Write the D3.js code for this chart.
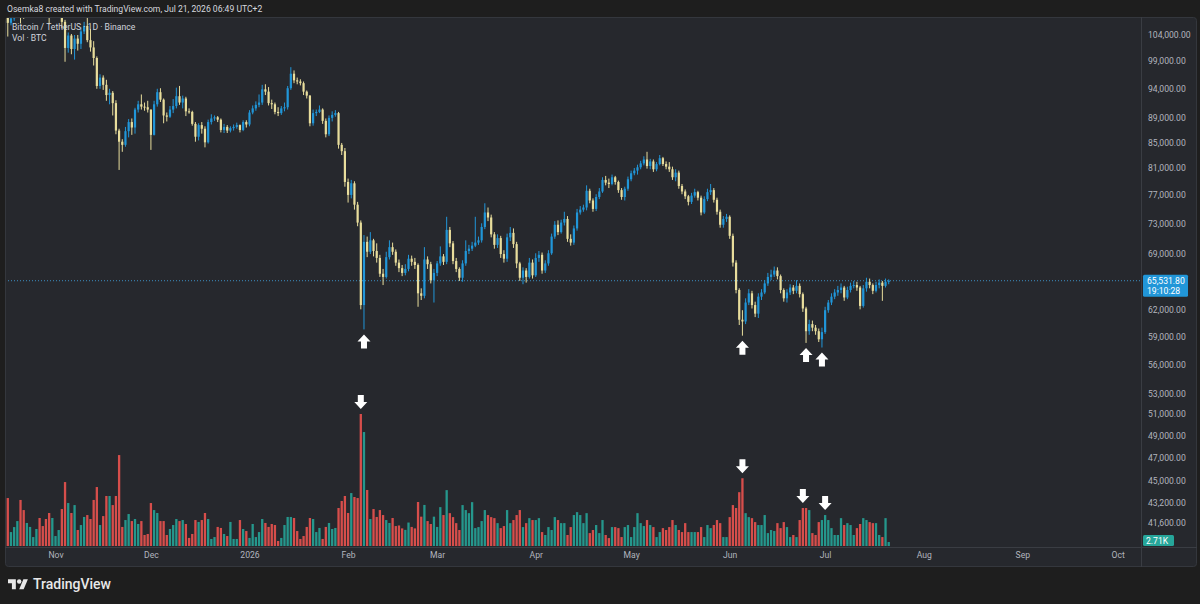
<!DOCTYPE html>
<html>
<head>
<meta charset="utf-8">
<script src="https://cdn.jsdelivr.net/npm/d3@7"></script>
<style>
  html, body { margin: 0; padding: 0; background: #1e1e1e; }
  svg { display: block; font-family: Roboto, "Noto Sans", sans-serif; }
</style>
</head>
<body>
<svg id="chart" width="1200" height="604"></svg>
<script>
// daily BTC/USDT candles, prices in thousands of USDT, volumes in thousands of BTC
var firstDay = Date.UTC(2025, 9, 17);
var firstOpen = 108.6;

var closes = [106.4,107.3,108.8,110.6,108.7,108.4,110.8,111.8,112.1,114.3,
113.0,111.0,110.0,108.2,109.5,110.0,110.6,106.6,101.5,103.9,
101.3,103.3,102.3,104.7,105.8,103.0,101.6,99.6,94.5,96.0,
94.7,92.9,93.3,91.5,86.9,85.1,84.6,86.8,88.3,87.4,
90.4,91.3,90.9,90.8,90.4,86.2,91.3,93.4,92.1,89.4,
89.2,90.4,91.0,92.7,91.6,92.3,90.1,90.0,88.0,85.9,
87.8,87.2,85.0,88.3,88.9,89.1,88.7,87.0,87.5,86.9,
87.3,87.5,87.8,87.0,88.3,87.9,89.9,90.6,91.2,91.6,
93.9,93.5,91.5,91.3,90.0,89.8,90.6,90.8,94.1,96.7,
95.5,95.3,95.0,93.5,92.8,88.1,89.8,90.0,90.4,88.5,
86.3,89.0,89.5,89.8,84.6,83.6,78.9,77.0,78.7,75.6,
73.1,62.6,70.5,69.2,70.7,69.3,68.4,66.4,66.0,68.5,
69.8,69.2,67.8,67.1,66.5,67.0,68.3,67.9,67.5,64.0,
63.7,68.2,67.6,65.6,66.5,67.7,68.6,67.9,72.1,70.3,
68.0,67.0,65.9,67.7,69.3,69.6,70.0,70.4,70.7,72.5,
74.5,73.8,71.5,70.1,71.0,68.9,68.3,71.1,71.7,70.2,
67.7,65.9,66.8,66.0,67.8,66.2,68.4,68.8,66.8,67.7,
69.0,71.2,72.8,71.8,73.1,73.6,70.9,70.4,72.3,74.5,
74.9,75.2,77.6,76.2,75.0,76.7,77.5,79.2,78.8,78.6,
79.6,78.9,77.7,76.7,77.9,79.3,80.2,80.6,81.1,81.7,
82.3,81.3,82.0,80.8,81.6,82.5,81.6,81.2,80.8,79.6,
80.3,78.3,77.5,76.8,76.0,76.9,77.4,76.6,74.5,76.4,
77.4,77.7,76.3,74.6,72.8,73.6,73.9,71.3,67.8,64.4,
60.9,60.7,62.9,64.0,62.6,61.6,63.6,64.1,65.2,66.0,
66.3,66.8,66.1,64.4,63.4,64.1,64.7,64.3,64.9,63.9,
62.2,59.6,60.4,60.0,59.6,58.7,59.5,62.0,62.9,63.6,
64.1,64.4,64.7,63.5,64.4,64.9,65.0,64.7,62.5,64.6,
65.4,65.0,64.3,65.0,65.3,64.9,65.4,65.5318];

var highs = [109.3,108.0,109.5,111.6,111.0,109.9,111.4,112.3,112.9,114.9,
116.0,113.6,111.7,110.6,110.0,110.4,111.2,110.8,107.0,104.5,
104.2,104.0,104.0,105.5,106.6,107.4,105.2,102.8,99.9,96.6,
96.4,95.6,94.0,93.6,92.0,87.2,85.5,87.5,88.8,88.9,
90.7,91.9,93.0,91.6,91.9,90.4,91.9,94.0,94.1,92.3,
89.9,91.0,92.2,94.2,94.5,92.8,92.6,90.6,90.2,88.3,
88.1,88.3,87.6,88.7,89.6,89.4,89.3,88.9,88.0,87.8,
87.6,87.9,88.2,87.9,88.6,88.6,90.3,91.1,91.8,93.0,
94.7,94.8,94.3,92.1,91.6,90.8,91.0,91.6,94.5,97.9,
97.3,96.0,95.7,95.3,93.7,92.9,90.4,90.4,91.1,90.6,
88.9,89.4,90.1,90.3,90.0,84.9,84.1,79.4,79.2,79.0,
76.0,73.4,71.4,71.2,71.8,70.9,70.3,68.8,67.0,69.2,
70.7,70.4,69.5,68.2,67.5,67.6,68.8,68.7,68.4,67.7,
64.6,69.8,68.6,67.9,67.0,68.0,69.9,68.9,73.9,72.5,
70.6,68.4,67.2,68.1,70.7,70.1,70.5,73.9,71.2,73.0,
75.8,75.2,74.2,71.8,71.5,71.3,69.4,71.6,72.5,72.3,
70.5,67.9,67.2,67.1,68.4,68.2,69.0,69.3,69.1,68.1,
69.4,71.6,73.3,73.4,73.5,74.6,74.0,71.5,72.7,75.0,
75.4,75.6,78.4,77.9,76.5,77.1,78.0,79.6,79.8,79.4,
80.0,79.8,79.1,78.0,78.2,79.7,80.6,81.0,81.5,82.1,
82.8,83.5,82.4,82.3,81.9,83.0,82.7,82.0,81.9,81.2,
80.8,80.6,78.6,77.8,77.0,77.3,77.9,77.6,76.9,76.8,
77.9,78.6,78.0,76.6,74.9,74.0,74.3,74.1,71.6,68.1,
64.6,62.0,63.4,64.5,64.3,63.0,64.0,64.5,65.6,66.5,
66.9,67.3,67.2,66.3,64.6,64.5,65.1,65.0,65.6,65.2,
64.1,62.4,60.9,60.8,60.3,59.9,60.0,62.4,63.2,64.0,
64.5,64.9,65.2,64.9,64.8,65.3,65.5,65.4,64.9,65.0,
65.9,65.8,65.2,65.4,65.7,65.5,65.8,65.7];

var lows = [103.7,105.9,106.8,108.3,106.3,107.2,107.9,110.2,111.2,111.5,
112.3,110.3,109.0,106.1,107.9,109.0,109.8,105.3,98.9,100.6,
100.3,99.3,101.0,101.3,104.2,102.6,100.8,98.2,94.0,94.0,
93.8,91.9,91.3,89.4,86.3,80.7,83.5,84.3,85.8,86.2,
86.4,89.9,90.4,90.2,89.9,83.8,86.1,90.9,91.7,88.1,
88.4,89.0,89.8,90.6,91.2,90.6,89.3,89.7,87.7,85.1,
85.3,86.4,84.2,84.8,87.9,88.5,88.3,86.6,86.5,86.5,
86.6,86.9,87.2,86.6,86.8,87.4,87.6,89.6,90.2,90.8,
91.2,92.9,91.1,90.5,89.6,89.3,89.5,90.1,90.4,93.8,
95.0,94.8,94.6,92.9,92.3,87.6,87.7,89.3,89.8,88.0,
85.8,86.0,88.4,89.2,84.0,83.0,78.2,75.9,76.5,74.9,
72.6,62.1,59.8,68.5,68.9,68.6,67.8,66.0,65.0,65.8,
68.2,68.8,67.4,66.6,66.1,66.2,66.7,67.4,67.0,62.4,
63.2,63.4,67.0,65.2,62.9,66.1,67.4,67.5,67.6,69.8,
67.6,66.6,65.5,65.4,67.4,68.9,69.3,69.8,70.1,70.4,
72.2,73.3,71.1,69.6,69.7,68.4,67.8,67.9,70.6,69.7,
67.1,65.5,65.1,65.3,65.8,65.8,66.0,67.9,66.4,66.5,
67.4,68.8,70.9,71.4,71.6,72.7,70.5,70.0,70.1,72.0,
74.2,74.6,74.8,75.8,74.6,74.7,76.4,77.3,78.4,78.0,
78.4,78.5,77.3,76.3,76.2,77.6,79.0,79.9,80.0,80.8,
81.4,80.9,80.8,80.4,80.5,81.4,81.3,80.8,80.4,79.2,
79.0,77.9,77.1,76.4,75.5,75.7,76.6,76.2,74.1,74.3,
76.1,77.0,75.9,74.2,72.4,72.4,73.2,70.9,67.3,64.0,
60.3,59.1,60.4,62.6,62.2,61.2,61.1,63.2,63.9,64.9,
65.6,66.0,65.7,64.0,63.0,62.9,63.8,63.9,64.0,63.5,
61.8,58.3,59.2,59.6,59.2,58.4,57.8,59.3,61.7,62.6,
63.3,63.7,64.0,63.1,63.3,64.1,64.6,64.3,62.1,62.3,
64.2,64.6,63.9,64.1,64.6,63.1,64.7,65.1];

var volumes = [32.7,9.5,12.9,17.0,31.4,24.5,15.7,13.0,6.1,11.6,
19.1,13.6,18.4,22.5,19.1,6.8,10.9,25.2,43.6,29.3,
22.5,27.9,10.9,14.3,19.8,21.1,18.4,31.4,40.2,14.3,
20.4,34.1,34.1,27.9,34.1,62.0,13.0,17.7,21.8,17.0,
18.4,15.0,17.0,7.5,8.2,29.3,24.5,22.5,17.0,17.0,
7.5,11.6,14.3,18.4,17.0,17.7,15.0,5.5,8.2,17.7,
16.4,17.7,22.5,18.4,4.8,6.1,13.0,12.3,8.2,6.8,
16.4,4.8,4.8,17.7,11.6,10.2,5.5,15.0,6.1,9.5,
18.4,15.7,13.0,15.0,14.3,3.4,5.5,14.3,19.8,19.8,
19.1,10.2,4.8,6.8,13.0,19.1,18.4,9.5,12.3,4.8,
13.0,15.7,11.6,12.3,25.9,30.7,34.1,22.5,36.1,33.4,
32.7,90.0,77.7,38.2,18.4,25.2,19.8,24.5,21.1,17.7,
15.7,19.1,13.6,14,12,11,16,13,12,30,
20,28,17,15,20,13,26.5,21.1,38.1,22.4,
19.7,15.6,10.9,27.9,24.5,22.4,29.9,12.2,12.9,17.0,
24.5,21.1,19.7,19.0,15.6,12.2,13.6,24.5,15.6,17.7,
21.1,24.5,12.9,15.6,19.0,17.7,17.7,19.0,9.5,7.5,
12.9,10.9,19.7,17.7,15.6,15.6,7.5,12.9,21.1,23.1,
21.1,15.6,22.4,8.8,10.9,14.3,8.8,17.7,7.5,5.4,
12.9,12.9,12.2,6.1,12.9,14.3,6.1,12.9,22.4,15.6,
13.6,17.7,14.3,12.9,6.1,9.5,12.2,10.9,12.9,17.7,
14.3,10.9,9.5,15.6,9.5,9.5,9.5,9.5,12.9,6.1,
14.3,12.2,14.3,17.7,15.6,6.1,6.1,19.7,27.9,25.9,
36.7,46.2,22.4,19.7,19.0,16.3,14.3,14.3,21.1,8.8,
10.9,10.2,15.6,12.2,16.3,12.9,6.1,7.5,6.1,17.7,
25.9,25.9,24.5,8.8,7.5,16.3,17.7,21.1,17.7,12.2,
7.5,7.5,19.0,14.3,15.6,14.3,7.5,12.2,15.0,19.0,
17.7,16.3,15.6,15.6,7.5,6.1,19.0,2.71];

var priceTicks = [104000, 99000, 94000, 89000, 85000, 81000, 77000, 73000, 69000,
  62000, 59000, 56000, 53000, 51000, 49000, 47000, 45000, 43200, 41600];
var monthTicks = [Date.UTC(2025,10,1), Date.UTC(2025,11,1), Date.UTC(2026,0,1), Date.UTC(2026,1,1),
  Date.UTC(2026,2,1), Date.UTC(2026,3,1), Date.UTC(2026,4,1), Date.UTC(2026,5,1),
  Date.UTC(2026,6,1), Date.UTC(2026,7,1), Date.UTC(2026,8,1), Date.UTC(2026,9,1)];
var monthLabels = ["Nov", "Dec", "2026", "Feb", "Mar", "Apr", "May", "Jun", "Jul", "Aug", "Sep", "Oct"];

// candles marked with white arrows (under the low / above the volume bar)
var lowArrows = [112, 231, 251, 256];
var volArrows = [111, 231, 250, 257];

var upColor = "#2196d8", downColor = "#e8dd9c";
var volUp = "#26a69a", volDown = "#ef5350";
var textColor = "#b2b5be";

var svg = d3.select("#chart");
var paneLeft = 5, paneTop = 17, paneRight = 1197, paneBottom = 567;
var axisX = 1141, timeY = 547;

var data = closes.map(function(c, i) {
  return {
    date: d3.utcDay.offset(new Date(firstDay), i),
    o: i == 0 ? firstOpen : closes[i - 1],
    h: highs[i], l: lows[i], c: c, v: volumes[i]
  };
});

var xScale = d3.scaleUtc()
  .domain([new Date(Date.UTC(2025,10,1)), new Date(Date.UTC(2026,9,1))])
  .range([55.5, 1117.7]);
var yScale = d3.scaleLog().domain([41600, 104000]).range([522.5, 35]);
var vScale = d3.scaleLinear().domain([0, 90]).range([546, 414]);

function px(k) { return yScale(k * 1000); }

svg.append("rect").attr("width", 1200).attr("height", 604).attr("fill", "#1e1e1e");
svg.append("rect")
  .attr("x", paneLeft + 0.5).attr("y", paneTop + 0.5)
  .attr("width", paneRight - paneLeft - 1).attr("height", paneBottom - paneTop - 1)
  .attr("rx", 3)
  .attr("fill", "#26282d")
  .attr("stroke", "#34373d");

svg.append("text")
  .attr("x", 7).attr("y", 12)
  .attr("font-size", "8.6px")
  .attr("fill", "#d6d8de")
  .text("Osemka8 created with TradingView.com, Jul 21, 2026 06:49 UTC+2");

svg.append("defs").append("clipPath").attr("id", "plot")
  .append("rect").attr("x", paneLeft + 1).attr("y", paneTop + 1)
  .attr("width", axisX - paneLeft - 1).attr("height", timeY - paneTop - 1);

var plot = svg.append("g").attr("clip-path", "url(#plot)");

// volume
plot.append("g").selectAll("rect")
  .data(data)
  .enter().append("rect")
  .attr("x", function(d) { return xScale(d.date) - 1.15; })
  .attr("y", function(d) { return vScale(d.v); })
  .attr("width", 2.3)
  .attr("height", function(d) { return vScale(0) - vScale(d.v); })
  .attr("fill", function(d) { return d.c >= d.o ? volUp : volDown; })
  .attr("opacity", 0.88);

// last price line
plot.append("line")
  .attr("x1", paneLeft).attr("x2", axisX)
  .attr("y1", px(closes[closes.length - 1])).attr("y2", px(closes[closes.length - 1]))
  .attr("stroke", "#3d8fc0")
  .attr("stroke-dasharray", "1,2");

var candle = plot.append("g").selectAll("g")
  .data(data)
  .enter().append("g");
candle.append("line")
  .attr("x1", function(d) { return xScale(d.date); })
  .attr("x2", function(d) { return xScale(d.date); })
  .attr("y1", function(d) { return px(d.h); })
  .attr("y2", function(d) { return px(d.l); })
  .attr("stroke", function(d) { return d.c >= d.o ? upColor : downColor; })
  .attr("stroke-width", 1);
candle.append("rect")
  .attr("x", function(d) { return xScale(d.date) - 1.1; })
  .attr("y", function(d) { return Math.min(px(d.o), px(d.c)); })
  .attr("width", 2.2)
  .attr("height", function(d) { return Math.max(1, Math.abs(px(d.o) - px(d.c))); })
  .attr("fill", function(d) { return d.c >= d.o ? upColor : downColor; });

// white arrows
function arrow(cx, tip, dir) {
  var s = dir; // 1 = points up (tip on top), -1 = points down
  return "M" + cx + "," + tip +
    "L" + (cx + 6.5) + "," + (tip + 7 * s) +
    "L" + (cx + 3) + "," + (tip + 7 * s) +
    "L" + (cx + 3) + "," + (tip + 14 * s) +
    "L" + (cx - 3) + "," + (tip + 14 * s) +
    "L" + (cx - 3) + "," + (tip + 7 * s) +
    "L" + (cx - 6.5) + "," + (tip + 7 * s) + "Z";
}
plot.append("g").selectAll("path.up")
  .data(lowArrows)
  .enter().append("path")
  .attr("d", function(i) { return arrow(xScale(data[i].date), px(data[i].l) + 5, 1); })
  .attr("fill", "#ffffff");
plot.append("g").selectAll("path.down")
  .data(volArrows)
  .enter().append("path")
  .attr("d", function(i) { return arrow(xScale(data[i].date), vScale(data[i].v) - 5, -1); })
  .attr("fill", "#ffffff");

// legend
svg.append("text").attr("x", 12).attr("y", 30)
  .attr("font-size", "8.6px").attr("fill", "#d1d4dc")
  .text("Bitcoin / TetherUS \u00b7 1D \u00b7 Binance");
svg.append("text").attr("x", 12).attr("y", 41)
  .attr("font-size", "8.6px").attr("fill", "#d1d4dc")
  .text("Vol \u00b7 BTC");

// axes separators
svg.append("line").attr("x1", axisX + 0.5).attr("x2", axisX + 0.5)
  .attr("y1", paneTop).attr("y2", paneBottom).attr("stroke", "#3a3d43");
svg.append("line").attr("x1", paneLeft).attr("x2", paneRight)
  .attr("y1", timeY + 0.5).attr("y2", timeY + 0.5).attr("stroke", "#3a3d43");

var yAxis = svg.append("g")
  .attr("transform", "translate(" + axisX + ",0)")
  .call(d3.axisRight(yScale).tickValues(priceTicks).tickFormat(d3.format(",.2f")).tickSize(0).tickPadding(7));
yAxis.select(".domain").remove();
yAxis.selectAll("text").attr("fill", textColor).attr("font-size", "8.6px")
  .attr("font-family", "Roboto, 'Noto Sans', sans-serif");

var xAxis = svg.append("g")
  .attr("transform", "translate(0," + timeY + ")")
  .call(d3.axisBottom(xScale).tickValues(monthTicks.map(function(t) { return new Date(t); }))
    .tickFormat(function(d, i) { return monthLabels[i]; }).tickSize(0).tickPadding(5));
xAxis.select(".domain").remove();
xAxis.selectAll("text").attr("fill", textColor).attr("font-size", "8.6px")
  .attr("font-family", "Roboto, 'Noto Sans', sans-serif");

// last price label
var lastY = px(closes[closes.length - 1]);
svg.append("rect").attr("x", axisX + 2).attr("y", lastY - 6).attr("width", 45).attr("height", 22)
  .attr("rx", 1.5).attr("fill", "#2196d8");
svg.append("text").attr("x", axisX + 6).attr("y", lastY + 3)
  .attr("font-size", "8.6px").attr("fill", "#ffffff")
  .text(d3.format(",.2f")(closes[closes.length - 1] * 1000));
svg.append("text").attr("x", axisX + 6).attr("y", lastY + 13)
  .attr("font-size", "8.6px").attr("fill", "#ffffff")
  .text("19:10:28");

// last volume label
var lastV = vScale(volumes[volumes.length - 1]);
svg.append("rect").attr("x", axisX + 2).attr("y", lastV - 7).attr("width", 31).attr("height", 11)
  .attr("rx", 1.5).attr("fill", "#26a69a");
svg.append("text").attr("x", axisX + 5).attr("y", lastV + 1.5)
  .attr("font-size", "8.6px").attr("fill", "#ffffff")
  .text(d3.format(".3~s")(volumes[volumes.length - 1] * 1000).replace("k", "K"));

// TradingView logo
var logo = svg.append("g").attr("transform", "translate(8,577) scale(0.56)");
logo.append("path").attr("d", "M14 22H7V11H0V4h14v18z").attr("fill", "#e8e8e8");
logo.append("circle").attr("cx", 20).attr("cy", 8).attr("r", 4).attr("fill", "#e8e8e8");
logo.append("path").attr("d", "M28 22h-8l7.5-18h8L28 22z").attr("fill", "#e8e8e8");
svg.append("text").attr("x", 33).attr("y", 588.5)
  .attr("font-size", "14px").attr("font-weight", 500).attr("fill", "#e8e8e8")
  .text("TradingView");
</script>
</body>
</html>
